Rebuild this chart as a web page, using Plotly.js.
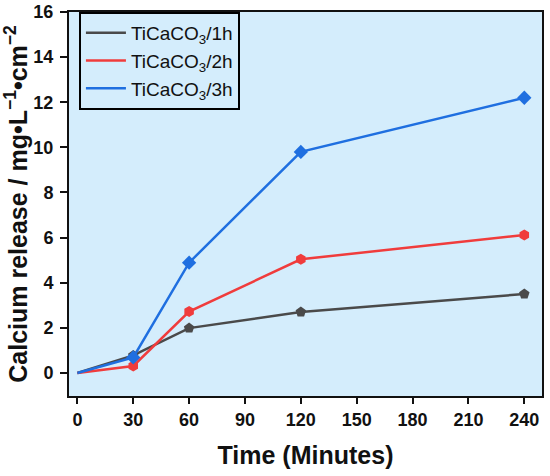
<!DOCTYPE html>
<html>
<head>
<meta charset="utf-8">
<script src="https://cdn.plot.ly/plotly-3.0.1.min.js"></script>
<style>html,body{margin:0;padding:0;background:#fff;}#chart{width:550px;height:476px;}</style>
</head>
<body>
<div id="chart"></div>
<script>
var timeMinutes = [0, 30, 60, 120, 240];
var series1h = [0, 0.78, 1.99, 2.70, 3.50];
var series2h = [0, 0.31, 2.72, 5.04, 6.12];
var series3h = [0, 0.69, 4.89, 9.80, 12.20];
var seriesNames = ['TiCaCO<sub>3</sub>/1h', 'TiCaCO<sub>3</sub>/2h', 'TiCaCO<sub>3</sub>/3h'];
var xTicks = [0, 30, 60, 90, 120, 150, 180, 210, 240];
var yTicks = [0, 2, 4, 6, 8, 10, 12, 14, 16];

var fam = '"Liberation Sans", Arial, sans-serif';
var colors = ['#4a4a4a', '#f03c3c', '#1f6fe0'];
var symbols = ['pentagon', 'hexagon', 'diamond'];
var allSeries = [series1h, series2h, series3h];
var data = [];
allSeries.forEach(function (y, i) {
  data.push({
    x: timeMinutes, y: y, name: seriesNames[i], type: 'scatter', mode: 'lines+markers',
    showlegend: false,
    line: {color: colors[i], width: 2.5},
    marker: {color: colors[i], symbol: symbols[i], size: 11,
             opacity: timeMinutes.map(function (t, j) { return j === 0 ? 0 : 1; })}
  });
});
allSeries.forEach(function (y, i) {
  data.push({
    x: [null], y: [null], name: seriesNames[i], type: 'scatter', mode: 'lines',
    showlegend: true, line: {color: colors[i], width: 2.5}
  });
});
var layout = {
  width: 550, height: 476,
  margin: {l: 69, r: 8, t: 12, b: 80},
  paper_bgcolor: '#ffffff',
  plot_bgcolor: '#d4edfc',
  showlegend: true,
  legend: {
    x: 0.021, y: 1.0, xanchor: 'left', yanchor: 'top',
    bgcolor: 'rgba(0,0,0,0)', bordercolor: '#000', borderwidth: 2,
    font: {family: fam, size: 19, color: '#111'},
    tracegroupgap: 2, itemwidth: 40
  },
  xaxis: {
    range: [-4.5, 249.5], tickvals: xTicks, ticktext: xTicks.map(String),
    showgrid: false, zeroline: false,
    showline: true, linecolor: '#111', linewidth: 2, mirror: true,
    ticks: 'outside', ticklen: 6, tickwidth: 2, tickcolor: '#111',
    ticklabelstandoff: 0,
    tickfont: {family: fam, size: 18, color: '#111', weight: 'bold'},
    title: {text: '<b>Time (Minutes)</b>', font: {family: fam, size: 25, color: '#111'}, standoff: 18}
  },
  yaxis: {
    range: [-1.02, 16], tickvals: yTicks, ticktext: yTicks.map(String),
    showgrid: false, zeroline: false,
    showline: true, linecolor: '#111', linewidth: 2, mirror: true,
    ticks: 'outside', ticklen: 7, tickwidth: 2, tickcolor: '#111',
    ticklabelstandoff: 3,
    tickfont: {family: fam, size: 18, color: '#111', weight: 'bold'},
    title: {text: '<b>Calcium release / mg•L<sup>−1</sup>•cm<sup>−2</sup></b>', font: {family: fam, size: 25, color: '#111'}, standoff: 1}
  }
};
Plotly.newPlot('chart', data, layout, {displayModeBar: false, staticPlot: true});
</script>
</body>
</html>
